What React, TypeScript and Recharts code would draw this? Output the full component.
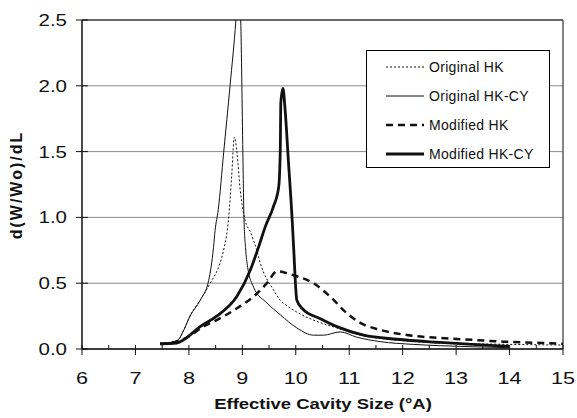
import React from 'react';
import { LineChart, Line, XAxis, YAxis, CartesianGrid, ReferenceLine } from 'recharts';

// [cavity size (Å), d(W/Wo)/dL]
const originalHK: [number, number][] = [
  [7.46, 0.04], [7.65, 0.05], [7.8, 0.07], [7.9, 0.14], [8.02, 0.25], [8.21, 0.37],
  [8.4, 0.5], [8.58, 0.65], [8.66, 0.77], [8.74, 0.98], [8.8, 1.31], [8.85, 1.61],
  [8.9, 1.49], [8.96, 1.21], [9.05, 0.98], [9.15, 0.89], [9.27, 0.75], [9.33, 0.66],
  [9.58, 0.45], [9.71, 0.37], [9.83, 0.33], [10.02, 0.28], [10.33, 0.22], [10.77, 0.16],
  [11.27, 0.1], [11.89, 0.068], [12.7, 0.045], [13.27, 0.04], [14, 0.035], [15, 0.03],
];

const originalHKCY: [number, number][] = [
  [7.46, 0.04], [7.65, 0.05], [7.8, 0.07], [7.9, 0.14], [8.02, 0.25], [8.21, 0.37],
  [8.37, 0.52], [8.46, 0.77], [8.49, 0.9], [8.55, 1.06], [8.65, 1.49], [8.77, 2.0],
  [8.88, 2.5], [8.93, 2.8], [8.97, 2.5], [9.01, 1.49], [9.03, 1.0], [9.06, 0.77],
  [9.1, 0.62], [9.21, 0.47], [9.46, 0.35], [9.71, 0.26], [10.02, 0.16], [10.33, 0.105],
  [10.52, 0.105], [10.83, 0.13], [11.14, 0.09], [11.58, 0.056], [12.2, 0.035],
  [12.7, 0.025], [13.3, 0.017], [14, 0.01],
];

const modifiedHK: [number, number][] = [
  [7.46, 0.04], [7.65, 0.045], [7.8, 0.06], [8.02, 0.1], [8.27, 0.17], [8.52, 0.22],
  [8.9, 0.31], [9.27, 0.42], [9.46, 0.5], [9.65, 0.59], [9.8, 0.58], [9.96, 0.56],
  [10.33, 0.5], [10.64, 0.4], [10.96, 0.27], [11.2, 0.2], [11.58, 0.145], [12.08, 0.106],
  [12.64, 0.085], [13.08, 0.075], [13.88, 0.056], [14.5, 0.047], [15, 0.04],
];

const modifiedHKCY: [number, number][] = [
  [7.46, 0.04], [7.77, 0.045], [7.9, 0.07], [8.21, 0.17], [8.52, 0.25], [8.9, 0.4],
  [9.15, 0.6], [9.3, 0.77], [9.43, 0.93], [9.58, 1.08], [9.68, 1.23], [9.71, 1.51],
  [9.72, 1.87], [9.76, 1.98], [9.8, 1.82], [9.86, 1.44], [9.93, 1.0], [9.96, 0.77],
  [10.02, 0.37], [10.14, 0.3], [10.46, 0.23], [10.77, 0.17], [11.27, 0.105],
  [11.89, 0.074], [12.7, 0.05], [13.3, 0.035], [14, 0.02],
];

const xTicks = [6, 6.5, 7, 7.5, 8, 8.5, 9, 9.5, 10, 10.5, 11, 11.5, 12, 12.5, 13, 13.5, 14, 14.5, 15];
const yTicks = [0, 0.5, 1, 1.5, 2, 2.5];

const toRows = (pts: [number, number][]) => pts.map(([x, y]) => ({ x, y }));

const series = [
  { name: 'Original HK', data: toRows(originalHK), width: 1, dash: '2 2' },
  { name: 'Original HK-CY', data: toRows(originalHKCY), width: 1, dash: undefined },
  { name: 'Modified HK', data: toRows(modifiedHK), width: 2.5, dash: '7 5' },
  { name: 'Modified HK-CY', data: toRows(modifiedHKCY), width: 2.8, dash: undefined },
];

const INK = '#111';
const FONT = '"Liberation Sans", Arial, sans-serif';

const XTick = (props: any) => {
  const { x, y, payload } = props;
  const v = payload.value;
  const major = Number.isInteger(v);
  return (
    <g>
      <line x1={x} x2={x} y1={y - 4} y2={major ? y + 6 : y} stroke={INK} strokeWidth={1} />
      {major && (
        <text
          transform={`translate(${x},${y + 35}) scale(1.35,1)`}
          textAnchor="middle"
          fontSize={16}
          fontFamily={FONT}
          fill={INK}
        >
          {v}
        </text>
      )}
    </g>
  );
};

const YTick = (props: any) => {
  const { x, y, payload } = props;
  return (
    <g>
      <line x1={x - 6} x2={x + 6} y1={y} y2={y} stroke={INK} strokeWidth={1} />
      <text
        transform={`translate(${x - 15},${y + 6}) scale(1.28,1)`}
        textAnchor="end"
        fontSize={16}
        fontFamily={FONT}
        fill={INK}
      >
        {payload.value.toFixed(1)}
      </text>
    </g>
  );
};

const LegendBox = () => (
  <div
    style={{
      position: 'absolute',
      left: 366,
      top: 50,
      width: 182,
      height: 116,
      border: '1px solid #000',
      background: '#fff',
      fontFamily: FONT,
      fontSize: 14,
      color: INK,
    }}
  >
    {series.map((s, i) => (
      <div
        key={s.name}
        style={{ position: 'absolute', left: 19, top: 6 + i * 29, height: 20, display: 'flex', alignItems: 'center' }}
      >
        <svg width={38} height={8}>
          <line x1={0} x2={38} y1={4} y2={4} stroke={INK} strokeWidth={s.width} strokeDasharray={s.dash} />
        </svg>
        <span style={{ marginLeft: 5, letterSpacing: 0.3, whiteSpace: 'nowrap' }}>{s.name}</span>
      </div>
    ))}
  </div>
);

export default function App() {
  return (
    <div style={{ position: 'absolute', left: 0, top: 0, width: 577, height: 418, background: '#fff' }}>
      <LineChart width={577} height={418} margin={{ top: 20, right: 14, left: 0, bottom: 0 }}>
        <CartesianGrid horizontal vertical={false} stroke="#8a8a8a" strokeWidth={1} />
        <XAxis
          type="number"
          dataKey="x"
          domain={[6, 15]}
          ticks={xTicks}
          interval={0}
          allowDuplicatedCategory={false}
          height={69}
          tickSize={0}
          tickMargin={0}
          tickLine={false}
          tick={<XTick />}
          axisLine={{ stroke: INK, strokeWidth: 1.5 }}
        />
        <YAxis
          type="number"
          domain={[0, 2.5]}
          ticks={yTicks}
          allowDataOverflow
          interval={0}
          width={82}
          tickSize={0}
          tickMargin={0}
          tickLine={false}
          tick={<YTick />}
          axisLine={{ stroke: INK, strokeWidth: 1.5 }}
        />
        <ReferenceLine y={2.5} stroke={INK} strokeWidth={1.2} />
        <ReferenceLine x={15} stroke="#333" strokeWidth={1.2} />
        {series.map((s) => (
          <Line
            key={s.name}
            name={s.name}
            data={s.data}
            dataKey="y"
            type="monotone"
            stroke={INK}
            strokeWidth={s.width}
            strokeDasharray={s.dash}
            dot={false}
            activeDot={false}
            isAnimationActive={false}
          />
        ))}
      </LineChart>
      <div
        style={{
          position: 'absolute',
          left: 17,
          top: 185,
          transform: 'translate(-50%,-50%) rotate(-90deg)',
          fontFamily: FONT,
          fontWeight: 'bold',
          fontSize: 16,
          letterSpacing: 2,
          whiteSpace: 'nowrap',
          color: INK,
        }}
      >
        d(W/Wo)/dL
      </div>
      <div
        style={{
          position: 'absolute',
          left: 323,
          top: 403,
          transform: 'translate(-50%,-50%) scale(1.23,1)',
          fontFamily: FONT,
          fontWeight: 'bold',
          fontSize: 15,
          whiteSpace: 'nowrap',
          color: INK,
        }}
      >
        Effective Cavity Size (°A)
      </div>
      <LegendBox />
    </div>
  );
}
